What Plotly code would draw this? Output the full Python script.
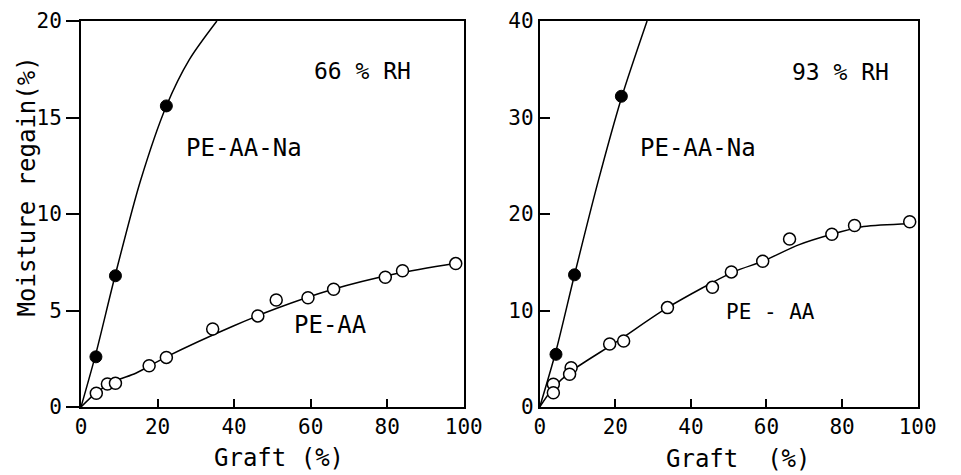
import plotly.graph_objects as go

# ---- Data ----
# Left panel: 66 % RH
na66_x = [3.9, 9.0, 22.3]
na66_y = [2.6, 6.8, 15.6]
aa66_x = [4.0, 6.9, 9.0, 17.8, 22.3, 34.4, 46.2, 51.0, 59.3, 66.0, 79.5, 84.0, 97.9]
aa66_y = [0.71, 1.19, 1.23, 2.14, 2.57, 4.04, 4.72, 5.54, 5.66, 6.1, 6.72, 7.06, 7.43]
na66_fit_x = [0, 3.8, 8.9, 15.5, 22.3, 28.3, 35.5]
na66_fit_y = [0, 2.7, 6.8, 11.7, 15.6, 18.0, 20.0]
aa66_fit_x = [0, 4, 9, 14.3, 22.3, 39.8, 51, 65.2, 82.2, 98]
aa66_fit_y = [0, 0.75, 1.35, 1.75, 2.6, 4.2, 5.1, 6.06, 6.9, 7.45]

# Right panel: 93 % RH
na93_x = [4.3, 9.2, 21.6]
na93_y = [5.46, 13.7, 32.2]
aa93_x = [3.6, 3.6, 8.3, 7.9, 18.5, 22.2, 33.8, 45.7, 50.7, 59.0, 66.1, 77.3, 83.3, 97.9]
aa93_y = [2.35, 1.48, 4.07, 3.39, 6.53, 6.84, 10.3, 12.4, 14.0, 15.1, 17.4, 17.9, 18.8, 19.2]
na93_fit_x = [0, 4.3, 9.2, 15.4, 21.6, 28.4]
na93_fit_y = [0, 5.8, 13.7, 23.3, 32.0, 40.0]
aa93_fit_x = [0, 3.6, 8.3, 20.4, 33.8, 51.3, 59, 68.5, 77.3, 85.7, 97.9]
aa93_fit_y = [0, 2.0, 3.7, 6.77, 10.3, 14.0, 15.1, 16.8, 17.9, 18.7, 19.0]

x_ticks = [0, 20, 40, 60, 80, 100]
y66_ticks = [0, 5, 10, 15, 20]
y93_ticks = [0, 10, 20, 30, 40]

FONT = "DejaVu Sans Mono"
W, H = 961, 475

fig = go.Figure()

line_style = dict(color="black", width=1.5, shape="spline", smoothing=0.8)
open_marker = dict(symbol="circle", size=12, color="white", line=dict(color="black", width=1.5))
fill_marker = dict(symbol="circle", size=12, color="black", line=dict(color="black", width=1))

for xa, ya, fx1, fy1, fx2, fy2, ox, oy, nx, ny in [
    ("x", "y", na66_fit_x, na66_fit_y, aa66_fit_x, aa66_fit_y, aa66_x, aa66_y, na66_x, na66_y),
    ("x2", "y2", na93_fit_x, na93_fit_y, aa93_fit_x, aa93_fit_y, aa93_x, aa93_y, na93_x, na93_y),
]:
    fig.add_trace(go.Scatter(x=fx1, y=fy1, mode="lines", line=line_style, xaxis=xa, yaxis=ya, showlegend=False, hoverinfo="skip"))
    fig.add_trace(go.Scatter(x=fx2, y=fy2, mode="lines", line=line_style, xaxis=xa, yaxis=ya, showlegend=False, hoverinfo="skip"))
    fig.add_trace(go.Scatter(x=ox, y=oy, mode="markers", marker=open_marker, xaxis=xa, yaxis=ya, showlegend=False, cliponaxis=False))
    fig.add_trace(go.Scatter(x=nx, y=ny, mode="markers", marker=fill_marker, xaxis=xa, yaxis=ya, showlegend=False, cliponaxis=False))

tickfont = dict(family=FONT, size=21, color="black")
common_x = dict(range=[0, 100], tickvals=x_ticks, ticks="inside", ticklen=8, tickwidth=1.5,
                tickcolor="black", showline=True, linecolor="black", linewidth=2, mirror=True,
                showgrid=False, zeroline=False, tickfont=tickfont, fixedrange=True)

fig.update_layout(
    width=W, height=H,
    margin=dict(l=0, r=0, t=21, b=68),
    paper_bgcolor="white", plot_bgcolor="white",
    xaxis=dict(domain=[77 / W, 470 / W], anchor="y", **common_x),
    xaxis2=dict(domain=[548 / W, 936 / W], anchor="y2", **common_x),
    yaxis=dict(domain=[0, 1], anchor="x", range=[0, 20], tickvals=y66_ticks, ticks="outside",
               ticklen=13, tickwidth=1.5, tickcolor="black", showline=True, linecolor="black",
               linewidth=2, mirror=True, showgrid=False, zeroline=False, tickfont=tickfont, fixedrange=True),
    yaxis2=dict(domain=[0, 1], anchor="x2", range=[0, 40], tickvals=y93_ticks, ticks="inside",
                ticklen=10, tickwidth=1.5, tickcolor="black", showline=True, linecolor="black",
                linewidth=2, mirror=True, showgrid=False, zeroline=False, tickfont=tickfont, fixedrange=True),
)

lab = dict(family=FONT, size=24, color="black")
rh = dict(family=FONT, size=23, color="black")
ttl = dict(family=FONT, size=24, color="black")
annots = [
    dict(text="66 % RH", x=73.5, y=17.4, xref="x", yref="y", font=rh),
    dict(text="PE-AA-Na", x=42.5, y=13.4, xref="x", yref="y", font=lab),
    dict(text="PE-AA", x=65.1, y=4.25, xref="x", yref="y", font=lab),
    dict(text="93 % RH", x=79.6, y=34.7, xref="x2", yref="y2", font=rh),
    dict(text="PE-AA-Na", x=41.8, y=26.8, xref="x2", yref="y2", font=lab),
    dict(text="PE - AA", x=61.1, y=9.84, xref="x2", yref="y2", font=dict(family=FONT, size=21, color="black")),
    dict(text="Graft (%)", x=280 / W, y=(407 - 458) / 386, xref="paper", yref="paper", font=ttl),
    dict(text="Graft  (%)", x=752 / W, y=(407 - 459) / 386, xref="paper", yref="paper", font=ttl),
    dict(text="Moisture regain(%)", x=22 / W, y=(407 - 186) / 386, xref="paper", yref="paper", textangle=-90,
         font=ttl),
]
for a in annots:
    a.update(showarrow=False, xanchor="center", yanchor="middle")
    fig.add_annotation(**a)

fig.write_html("out.html")
